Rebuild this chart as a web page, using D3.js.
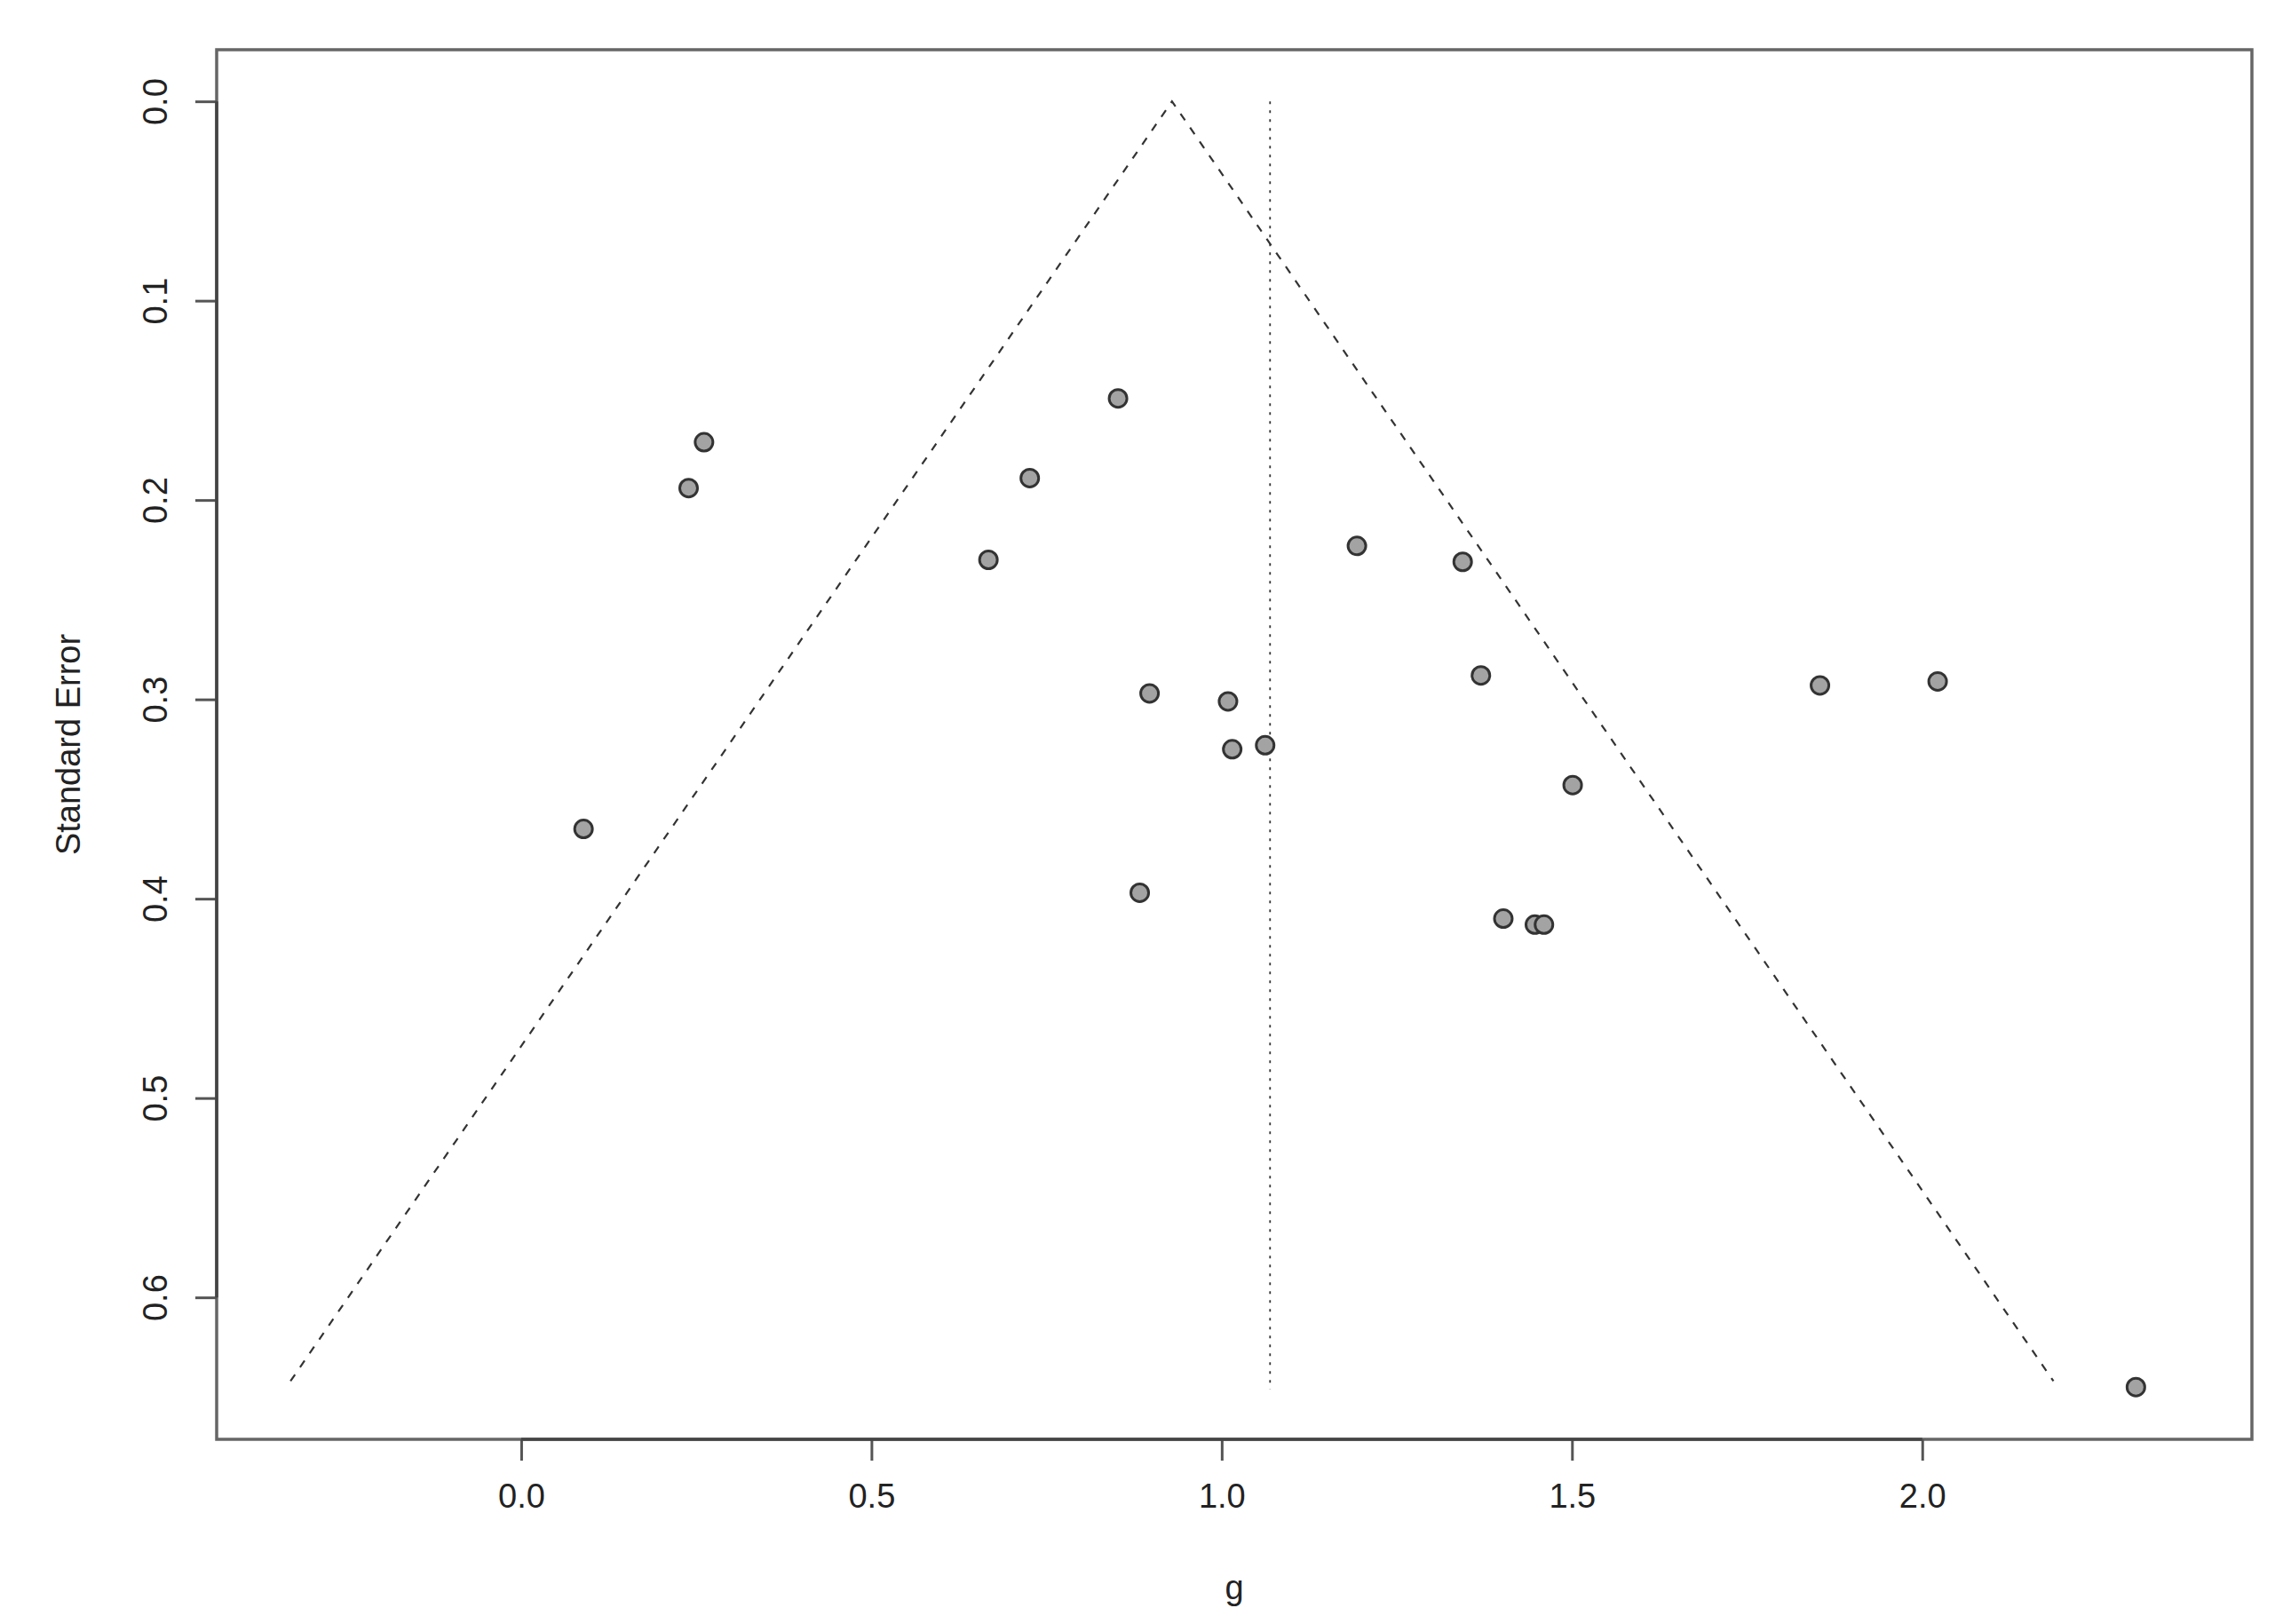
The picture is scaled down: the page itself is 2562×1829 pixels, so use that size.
<!DOCTYPE html>
<html>
<head>
<meta charset="utf-8">
<script src="https://cdn.jsdelivr.net/npm/d3@7"></script>
<style>
    body { margin: 0; background: #fff; }
    svg text { font-family: "Liberation Sans", Arial, Helvetica, sans-serif; fill: #222; }
</style>
</head>
<body>
<svg id="chart" width="2562" height="1829"></svg>
<script>
// data
var effectG = [0.261, 0.239, 0.089, 0.667, 0.726, 0.852, 0.897, 1.009, 1.015, 1.062,
               0.883, 1.193, 1.344, 1.370, 1.501, 1.402, 1.447, 1.460, 1.854, 2.022, 2.305];
var stdErr  = [0.171, 0.194, 0.365, 0.230, 0.189, 0.149, 0.297, 0.301, 0.325, 0.323,
               0.397, 0.223, 0.231, 0.288, 0.343, 0.410, 0.413, 0.413, 0.293, 0.291, 0.645];

var xTicks = [0, 0.5, 1, 1.5, 2];
var yTicks = [0, 0.1, 0.2, 0.3, 0.4, 0.5, 0.6];

var pooled = 0.929;      // funnel apex
var refLine = 1.069;     // dotted vertical line
var funnelSe = 0.642;    // funnel drawn down to this se
var refLineSe = 0.646;

var xLabel = "g";
var yLabel = "Standard Error";


// utils
function fmt(v){
    return d3.format(".1f")(v);
}


// plot
(function(){
    var svg = d3.select("#chart"),
        W = +svg.attr("width"),
        H = +svg.attr("height"),
        m = { top: 56, right: 26, bottom: 208, left: 244 },
        iw = W - m.left - m.right,
        ih = H - m.top - m.bottom;

    var x = d3.scaleLinear().domain([-0.4347, 2.4706]).range([0, iw]),
        y = d3.scaleLinear().domain([-0.0259, 0.6712]).range([0, ih]);

    var g = svg.append("g").attr("transform", "translate(" + m.left + "," + m.top + ")");

    // funnel
    var funnel = [
        [pooled - 1.96 * funnelSe, funnelSe],
        [pooled, 0],
        [pooled + 1.96 * funnelSe, funnelSe]
    ];
    var line = d3.line()
        .x(function(d){ return x(d[0]); })
        .y(function(d){ return y(d[1]); });

    g.append("path")
        .datum(funnel)
        .attr("d", line)
        .attr("fill", "none")
        .attr("stroke", "#333")
        .attr("stroke-width", 2.2)
        .attr("stroke-dasharray", "9,10");

    g.append("line")
        .attr("x1", x(refLine)).attr("x2", x(refLine))
        .attr("y1", y(0)).attr("y2", y(refLineSe))
        .attr("stroke", "#333")
        .attr("stroke-width", 1.8)
        .attr("stroke-dasharray", "3,7");

    // points
    g.selectAll("circle.pt")
        .data(effectG)
        .enter().append("circle")
        .attr("class", "pt")
        .attr("cx", function(d){ return x(d); })
        .attr("cy", function(d, i){ return y(stdErr[i]); })
        .attr("r", 10)
        .attr("fill", "#a3a3a3")
        .attr("stroke", "#333")
        .attr("stroke-width", 3);

    // box
    g.append("rect")
        .attr("x", 0).attr("y", 0)
        .attr("width", iw).attr("height", ih)
        .attr("fill", "none")
        .attr("stroke", "#666")
        .attr("stroke-width", 3.5);

    // x axis
    var xa = g.append("g")
        .attr("transform", "translate(0," + ih + ")")
        .call(d3.axisBottom(x).tickValues(xTicks).tickSize(24).tickPadding(26).tickFormat(fmt));
    xa.select(".domain").remove();
    xa.append("line")
        .attr("x1", x(xTicks[0])).attr("x2", x(xTicks[xTicks.length - 1]))
        .attr("stroke", "#444").attr("stroke-width", 3.5);
    xa.selectAll(".tick line").attr("stroke", "#555").attr("stroke-width", 3);
    xa.selectAll(".tick text")
        .attr("font-size", 38)
        .attr("fill", "#222");

    // y axis
    var ya = g.append("g")
        .call(d3.axisLeft(y).tickValues(yTicks).tickSize(24).tickFormat(fmt));
    ya.select(".domain").remove();
    ya.append("line")
        .attr("y1", y(yTicks[0])).attr("y2", y(yTicks[yTicks.length - 1]))
        .attr("stroke", "#444").attr("stroke-width", 3.5);
    ya.selectAll(".tick line").attr("stroke", "#555").attr("stroke-width", 3);
    ya.selectAll(".tick text")
        .attr("font-size", 38)
        .attr("fill", "#222")
        .attr("x", null).attr("dy", null)
        .attr("text-anchor", "middle")
        .attr("transform", "translate(-56,0) rotate(-90)");

    // titles
    svg.append("text")
        .attr("x", m.left + iw / 2)
        .attr("y", 1801)
        .attr("text-anchor", "middle")
        .attr("font-size", 38)
        .text(xLabel);

    svg.append("text")
        .attr("transform", "translate(90," + (m.top + ih / 2) + ") rotate(-90)")
        .attr("text-anchor", "middle")
        .attr("font-size", 38)
        .text(yLabel);
})();
</script>
</body>
</html>
